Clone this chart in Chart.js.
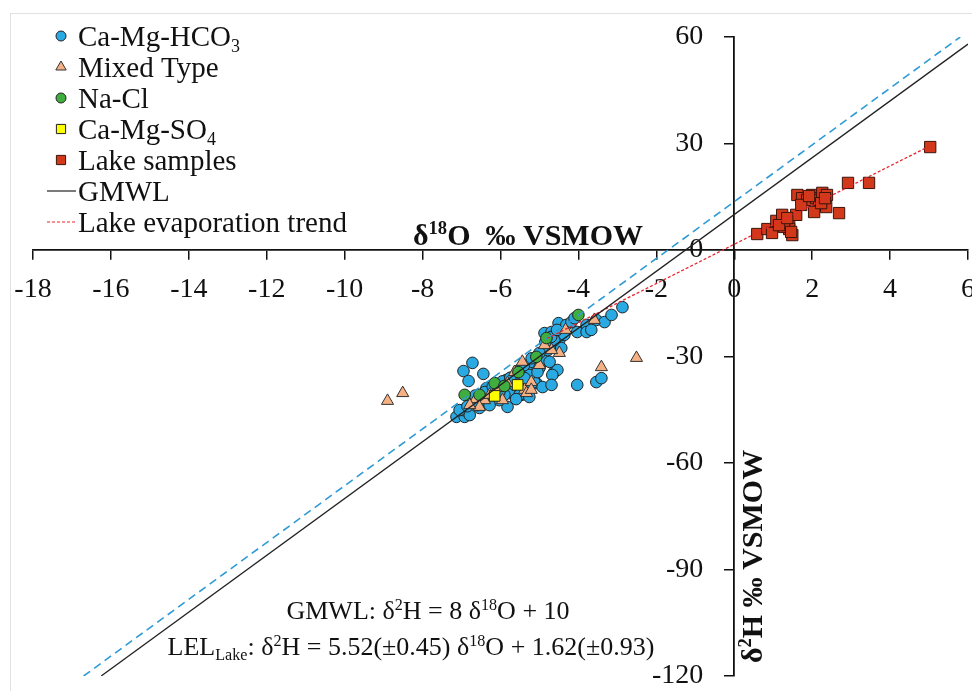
<!DOCTYPE html>
<html>
<head>
<meta charset="utf-8">
<script src="https://cdn.jsdelivr.net/npm/chart.js@4.4.1/dist/chart.umd.min.js"></script>
<style>
  html, body { margin: 0; padding: 0; background: #fff; overflow: hidden; }
  #wrap { width: 972px; height: 691px; overflow: hidden; }
</style>
</head>
<body>
<div id="wrap"><canvas id="myChart" width="977" height="691"></canvas></div>
<script>
// samples, [d18O, d2H]
const hco3 = [
  [-6.95, -34.1], [-6.72, -31.8], [-6.82, -36.9], [-6.44, -34.9], [-7.13, -47.0], [-6.92, -47.0],
  [-6.95, -45.1], [-6.54, -44.5], [-5.82, -44.2], [-5.77, -40.3], [-5.46, -40.8], [-5.31, -38.6],
  [-5.08, -37.5], [-5.85, -36.6], [-5.69, -35.8], [-5.33, -33.0], [-5.51, -34.4], [-6.36, -38.9],
  [-6.72, -42.3], [-6.46, -42.3], [-6.03, -42.3], [-6.28, -41.4], [-2.87, -16.1], [-4.51, -20.6],
  [-4.31, -21.1], [-4.18, -20.3], [-3.79, -21.1], [-3.54, -19.7], [-4.03, -23.1], [-3.79, -23.1],
  [-4.87, -23.4], [-4.69, -23.1], [-4.49, -25.4], [-4.44, -27.6], [-4.74, -27.3], [-5.08, -30.1],
  [-5.18, -31.5], [-4.95, -31.8], [-4.62, -34.4], [-4.54, -33.8], [-4.67, -35.2], [-5.13, -37.2],
  [-4.92, -38.6], [-4.69, -38.0], [-4.03, -38.0], [-3.54, -37.2], [-3.41, -36.1], [-6.15, -39.4],
  [-5.90, -40.8], [-5.64, -38.0], [-5.26, -35.2], [-5.00, -33.2], [-4.87, -31.0], [-4.79, -28.2],
  [-4.62, -25.4], [-4.36, -23.9], [-6.79, -46.5], [-6.59, -43.7], [-6.28, -43.7], [-6.03, -40.0],
  [-5.38, -36.1], [-5.05, -34.4], [-4.74, -31.5], [-5.51, -40.8], [-5.26, -41.4], [-7.05, -45.1],
  [-3.67, -22.5], [-3.33, -20.3], [-3.15, -18.3], [-4.10, -19.2], [-6.85, -44.0], [-6.65, -41.0],
  [-6.40, -40.0], [-6.20, -38.5], [-5.95, -37.0], [-5.75, -36.0], [-5.55, -34.0], [-5.40, -32.5],
  [-5.20, -30.5], [-5.00, -29.0], [-4.85, -26.0], [-4.70, -24.5], [-4.55, -22.5], [-5.60, -42.0]
]
const mixed = [
  [-6.64, -42.0], [-6.41, -42.3], [-5.95, -42.3], [-5.38, -39.4], [-5.33, -40.3], [-5.44, -31.5],
  [-5.21, -37.2], [-5.82, -37.5], [-6.54, -44.2], [-3.59, -19.7], [-4.49, -29.0], [-4.69, -28.2],
  [-3.41, -33.0], [-2.51, -30.4], [-5.21, -39.4], [-8.90, -42.5], [-8.51, -40.3], [-6.79, -43.7],
  [-5.64, -34.4], [-5.00, -32.4], [-4.87, -26.8], [-6.28, -40.8], [-6.08, -38.9], [-4.33, -22.5]
]
const nacl = [
  [-6.92, -40.8], [-6.54, -40.8], [-6.15, -37.5], [-5.90, -38.3], [-5.54, -34.4], [-5.08, -30.1],
  [-4.00, -18.3], [-4.82, -24.8]
]
const so4 = [[-6.15, -41.1], [-5.56, -38.0]]
const lake = [
  [0.59, 4.5], [0.85, 5.9], [0.97, 4.8], [1.08, 8.2], [1.23, 9.9], [1.41, 7.9], [1.41, 5.9],
  [1.49, 4.2], [1.28, 6.5], [1.59, 9.9], [1.62, 15.5], [1.74, 14.6], [1.87, 14.1], [2.00, 15.5],
  [2.10, 14.6], [2.18, 14.1], [2.26, 16.1], [2.38, 15.5], [2.05, 10.7], [2.36, 12.1], [2.69, 10.4],
  [2.92, 18.9], [3.46, 18.9], [1.72, 12.7], [2.23, 13.2], [5.03, 29.0], [1.15, 7.0], [1.36, 9.0],
  [1.92, 15.2], [2.33, 14.6], [1.46, 5.1]
]
// line end points
const gmwl = [[-16.25, -120], [6, 58]]
const lel = [[-4.8, -24.9], [5, 29.2]]
const lmwl = [[-16.7, -120], [5.8, 60]]

const xMin = -18, xMax = 6, xStep = 2
const yMin = -120, yMax = 60, yStep = 30

const serif = "'Liberation Serif', 'Times New Roman', serif"
Chart.defaults.font.family = serif
Chart.defaults.color = '#111'

const pts = arr => arr.map(([x, y]) => ({ x, y }))

const data = {
  datasets: [
    { label: 'GMWL', data: pts(gmwl), showLine: true, borderColor: '#222', borderWidth: 1.3, pointRadius: 0, order: 0 },
    { label: 'Lake evaporation trend', data: pts(lel), showLine: true, borderColor: '#e8262d', borderWidth: 1.3, borderDash: [3, 2], pointRadius: 0, order: 0 },
    { label: 'LMWL', data: pts(lmwl), showLine: true, borderColor: '#2f9bd6', borderWidth: 1.6, borderDash: [8, 5], pointRadius: 0, order: 0 },
    { label: 'Lake samples', data: pts(lake), pointStyle: 'rect', pointRadius: 8, backgroundColor: '#d2391b', borderColor: '#3b130a', borderWidth: 1, order: 1 },
    { label: 'Ca-Mg-SO4', data: pts(so4), pointStyle: 'rect', pointRadius: 7.5, backgroundColor: '#ffff00', borderColor: '#222', borderWidth: 1, order: 2 },
    { label: 'Na-Cl', data: pts(nacl), pointStyle: 'circle', pointRadius: 5.8, backgroundColor: '#3fae3f', borderColor: '#222', borderWidth: 1, order: 3 },
    { label: 'Mixed Type', data: pts(mixed), pointStyle: 'triangle', pointRadius: 7, backgroundColor: '#f5b183', borderColor: '#333', borderWidth: 1, order: 4 },
    { label: 'Ca-Mg-HCO3', data: pts(hco3), pointStyle: 'circle', pointRadius: 5.8, backgroundColor: '#2aaae2', borderColor: '#222', borderWidth: 1, order: 5 }
  ]
}

// legend rows: text parts, dataset index
const legendRows = [
  [[['Ca-Mg-HCO'], ['3', 'sub']], 7],
  [[['Mixed Type']], 6],
  [[['Na-Cl']], 5],
  [[['Ca-Mg-SO'], ['4', 'sub']], 4],
  [[['Lake samples']], 3],
  [[['GMWL']], 0],
  [[['Lake evaporation trend']], 1]
]

function richText(ctx, parts, x, y, size, bold, align) {
  const font = s => (bold ? 'bold ' : '') + s + 'px ' + serif
  let w = 0
  parts.forEach(p => { ctx.font = font(p[1] ? size * 0.62 : size); w += ctx.measureText(p[0]).width })
  let cx = align === 'center' ? x - w / 2 : align === 'right' ? x - w : x
  ctx.textAlign = 'left'
  ctx.textBaseline = 'alphabetic'
  parts.forEach(p => {
    const s = p[1] ? size * 0.62 : size
    const dy = p[1] === 'sup' ? -size * 0.36 : p[1] === 'sub' ? size * 0.2 : 0
    ctx.font = font(s)
    ctx.fillText(p[0], cx, y + dy)
    cx += ctx.measureText(p[0]).width
  })
}

const extras = {
  id: 'extras',
  afterUpdate: (chart) => {
    // y labels sit left of the crossing axis, clear of the tick marks
    chart.scales.y.getLabelItems().forEach(item => { item.options.translation[0] -= 31 })
  },
  beforeDraw: (chart) => {
    const ctx = chart.ctx
    ctx.save()
    ctx.fillStyle = '#fff'
    ctx.fillRect(0, 0, chart.width, chart.height)
    ctx.strokeStyle = '#e2e2e2'
    ctx.lineWidth = 1
    ctx.strokeRect(10.5, 13.5, 1000, 1000)
    ctx.restore()
  },
  afterDraw: (chart) => {
    const ctx = chart.ctx
    ctx.save()
    ctx.fillStyle = '#111'

    // legend
    legendRows.forEach(([parts, di], i) => {
      const ds = chart.data.datasets[di]
      const cy = 36 + i * 31
      ctx.save()
      if (ds.showLine) {
        ctx.strokeStyle = ds.borderColor
        ctx.lineWidth = 1.2
        ctx.setLineDash(ds.borderDash || [])
        ctx.beginPath()
        ctx.moveTo(47, cy)
        ctx.lineTo(76, cy)
        ctx.stroke()
      } else {
        ctx.fillStyle = ds.backgroundColor
        ctx.strokeStyle = ds.borderColor
        ctx.lineWidth = 1
        const r = ds.pointStyle === 'rect' ? 6.5 : ds.pointStyle === 'triangle' ? 6 : 5
        Chart.helpers.drawPoint(ctx, { pointStyle: ds.pointStyle, radius: r, rotation: 0, borderWidth: 1 }, 61, cy)
      }
      ctx.restore()
      richText(ctx, parts, 78, cy + 10, 29, false, 'left')
    })

    // axis titles
    richText(ctx, [['δ'], ['18', 'sup'], ['O  ‰ VSMOW']], 643, 245, 30, true, 'right')
    ctx.save()
    ctx.translate(762, 663)
    ctx.rotate(-Math.PI / 2)
    richText(ctx, [['δ'], ['2', 'sup'], ['H ‰ VSMOW']], 0, 0, 30, true, 'left')
    ctx.restore()

    // equations
    richText(ctx, [['GMWL: δ'], ['2', 'sup'], ['H = 8 δ'], ['18', 'sup'], ['O + 10']], 428, 619, 26, false, 'center')
    richText(ctx, [['LEL'], ['Lake', 'sub'], [': δ'], ['2', 'sup'], ['H = 5.52(±0.45) δ'], ['18', 'sup'], ['O + 1.62(±0.93)']], 411, 655, 26, false, 'center')
    ctx.restore()
  }
}

const noPad = (s) => { s.paddingLeft = 0; s.paddingRight = 0; s.paddingTop = 0; s.paddingBottom = 0 }

const option = {
  responsive: false,
  animation: false,
  layout: { padding: { left: 33, right: 3, top: 37, bottom: 15 } },
  plugins: { legend: { display: false }, tooltip: { enabled: false } },
  scales: {
    x: {
      type: 'linear',
      position: { y: 0 },
      min: xMin, max: xMax,
      ticks: { stepSize: xStep, font: { size: 28 }, color: '#111', padding: 14, maxRotation: 0, autoSkip: false },
      grid: { drawOnChartArea: false, drawTicks: true, tickLength: 9, color: '#111', lineWidth: 1.5 },
      border: { color: '#111', width: 1.8 },
      afterFit: noPad
    },
    y: {
      type: 'linear',
      position: { x: 0 },
      min: yMin, max: yMax,
      ticks: { stepSize: yStep, font: { size: 28 }, color: '#111', padding: 22, autoSkip: false },
      grid: { drawOnChartArea: false, drawTicks: true, tickLength: 9, color: '#111', lineWidth: 1.5 },
      border: { color: '#111', width: 1.8 },
      afterFit: noPad
    }
  }
}

const myChart = new Chart(document.getElementById('myChart').getContext('2d'), {
  type: 'scatter',
  data: data,
  options: option,
  plugins: [extras]
})
</script>
</body>
</html>
